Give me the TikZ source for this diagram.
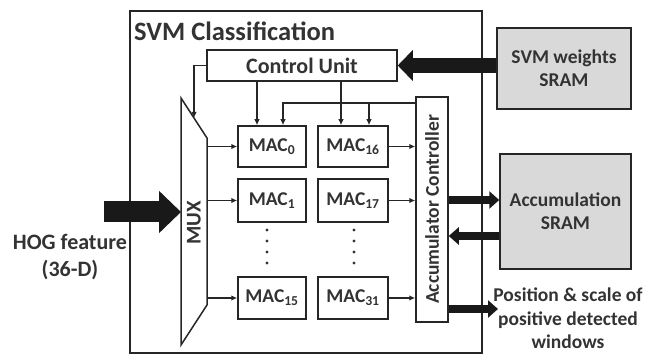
\documentclass[tikz,border=0pt]{standalone}
\usepackage{fontspec}
\setmainfont{Carlito}
\usetikzlibrary{positioning, arrows.meta}

\begin{document}
\begin{tikzpicture}[x=1pt, y=-1pt, line join=miter,
		blk/.style={draw=black!85, line width=1.5pt, fill=white, inner sep=0pt, text=black!80,
			align=center, font=\fontsize{19.5}{23}\selectfont\bfseries},
		sram/.style={blk, fill=black!15},
		lbl/.style={text=black!80, align=center, inner sep=0pt, font=\fontsize{19.5}{23.5}\selectfont\bfseries},
		thin/.style={draw=black!85, line width=1.2pt, -{Latex[length=6pt,width=5.5pt]}},
		fat/.style={draw=black!90, line width=15pt, -{Triangle[length=15pt,width=30pt]}},
		mid/.style={draw=black!90, line width=8pt, -{Triangle[length=10pt,width=17pt]}}
		]
		\useasboundingbox (0,0) rectangle (661,355);
		% outer frame
		\draw[black!85, line width=1.5pt] (130,11) rectangle (482,353);
		\node[anchor=west, lbl, font=\fontsize{26.5}{30}\selectfont\bfseries] (title) at (134,31) {SVM Classification};

		\node[blk, minimum width=190pt, minimum height=31pt, font=\fontsize{22}{26}\selectfont\bfseries] (cu) at (302,65.5) {Control Unit};
		\node[sram, minimum width=134pt, minimum height=81pt] (wsram) at (564,68.5) {SVM weights\\SRAM};
		\node[sram, minimum width=131pt, minimum height=115pt] (asram) at (565.5,211.5) {Accumulation\\SRAM};
		\node[blk, rotate=90, minimum width=225pt, minimum height=32pt] (acc) at (432,209.5) {Accumulator Controller};

		% MAC array
		\node[blk, minimum width=68pt, minimum height=41pt] (mac0) at (272,146.5) {MAC\textsubscript{0}};
		\node[blk, minimum width=70pt, minimum height=41pt] (mac16) at (353,146.5) {MAC\textsubscript{16}};
		\node[blk, minimum width=68pt, minimum height=43pt] (mac1) at (272,200.5) {MAC\textsubscript{1}};
		\node[blk, minimum width=70pt, minimum height=43pt] (mac17) at (353,200.5) {MAC\textsubscript{17}};
		\node[blk, minimum width=68pt, minimum height=42pt] (mac15) at (272,298) {MAC\textsubscript{15}};
		\node[blk, minimum width=70pt, minimum height=42pt] (mac31) at (353,298) {MAC\textsubscript{31}};
		\foreach \y in {230,241,252,263} {
			\fill[black!80] (267,\y) circle (1.6pt);
			\fill[black!80] (354,\y) circle (1.6pt);
		}

		% MUX
		\draw[black!85, line width=1.5pt] (181,98) -- (207,138) -- (207,305) -- (181,345) -- cycle;
		\node[lbl, rotate=90, font=\fontsize{21}{25}\selectfont\bfseries] (mux) at (194,223) {MUX};
		\coordinate (muxin) at (194,118);
		\coordinate (muxR) at (207,200);
		\coordinate (muxL) at (181,212);

		\draw[thin] (cu.west) -| (muxin);
		\foreach \m in {mac0, mac1, mac15} {
			\draw[thin] (\m.west -| muxR) -- (\m.west);
		}
		\foreach \m in {mac16, mac17, mac31} {
			\draw[thin] (\m.east) -- (\m.east -| acc.north);
		}
		\draw[thin] ([xshift=-15pt]mac0.north |- cu.south) -- ([xshift=-15pt]mac0.north);
		\draw[thin] ([xshift=-12pt]mac16.north |- cu.south) -- ([xshift=-12pt]mac16.north);

		% feedback from accumulator controller
		\coordinate (fb) at (283,103);
		\draw[thin] (fb -| acc.north) -- (fb) -- (fb |- mac0.north);
		\draw[thin] ([xshift=16pt]mac16.north |- fb) -- ([xshift=16pt]mac16.north);

		% big arrows
		\draw[fat] (wsram.west |- cu.east) -- (cu.east);
		\coordinate (hogin) at (104,212);
		\draw[draw=black!90, line width=21pt, -{Triangle[length=22pt,width=41pt]}] (hogin) -- (muxL);
		\node[lbl, font=\fontsize{22}{27}\selectfont\bfseries] (hog) at (70,257) {HOG feature\\(36-D)};

		\coordinate (aw1) at ([yshift=11.5pt]asram.west);
		\coordinate (aw2) at ([yshift=-24.5pt]asram.west);
		\draw[mid] (aw1 -| acc.south) -- (aw1);
		\draw[mid] (aw2) -- (aw2 -| acc.south);

		\coordinate (out) at (498,309);
		\draw[mid] (out -| acc.south) -- (out);
		\node[lbl] (pos) at (568,318.5) {Position \& scale of\\positive detected\\windows};
	\end{tikzpicture}
\end{document}
